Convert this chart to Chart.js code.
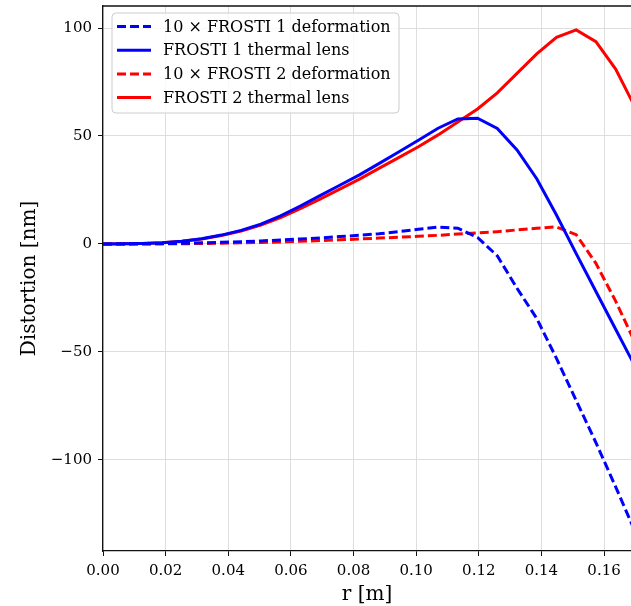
<!DOCTYPE html>
<html>
<head>
<meta charset="utf-8">
<script src="https://cdn.jsdelivr.net/npm/chart.js@4.4.0/dist/chart.umd.min.js"></script>
<style>
  html, body { margin: 0; padding: 0; background: #fff; }
  #wrap { width: 631px; height: 606px; position: relative; }
</style>
</head>
<body>
<div id="wrap"><canvas id="mainChart"></canvas></div>
<script>
// radius samples [m]
const rValues = [0, 0.0063, 0.0126, 0.0189, 0.0252, 0.0315, 0.0378, 0.0441, 0.0504, 0.0567,
    0.063, 0.0693, 0.0756, 0.0819, 0.0881, 0.0944, 0.1007, 0.107, 0.1133, 0.1196,
    0.1259, 0.1322, 0.1385, 0.1448, 0.1511, 0.1574, 0.1637, 0.17];

// distortion [nm], deformation already multiplied by 10
const frosti1Deformation = [0, 0, 0.05, 0.15, 0.3, 0.5, 0.75, 1.05, 1.4, 1.8,
    2.3, 2.8, 3.4, 4.0, 4.7, 5.7, 6.8, 7.8, 7.3, 3.0,
    -5.5, -20.5, -34.5, -53, -72.5, -92, -112.5, -133.5];
const frosti1Lens = [0, 0.05, 0.25, 0.6, 1.3, 2.4, 4.1, 6.3, 9.2, 13.0,
    17.5, 22.4, 27.2, 32.0, 37.2, 42.6, 48.0, 53.6, 57.9, 58.2,
    53.5, 43.5, 30.2, 13.4, -4.5, -22, -39.5, -57];
const frosti2Deformation = [0, 0, 0.02, 0.05, 0.1, 0.2, 0.35, 0.5, 0.7, 0.95,
    1.25, 1.55, 1.9, 2.3, 2.7, 3.1, 3.55, 4.0, 4.6, 5.1,
    5.7, 6.5, 7.3, 7.9, 4.3, -9, -26.5, -46];
const frosti2Lens = [0, 0.05, 0.25, 0.6, 1.2, 2.3, 3.9, 6.0, 8.7, 12.2,
    16.3, 20.8, 25.4, 30.0, 35.0, 40.0, 45.0, 50.5, 56.5, 62.5,
    70.0, 79.0, 88.0, 95.7, 99.1, 93.7, 81.0, 63.0];

const seriesLabels = ['10 \u00d7 FROSTI 1 deformation', 'FROSTI 1 thermal lens',
    '10 \u00d7 FROSTI 2 deformation', 'FROSTI 2 thermal lens'];

const xTicks = [0, 0.02, 0.04, 0.06, 0.08, 0.10, 0.12, 0.14, 0.16];
const yTicks = [-100, -50, 0, 50, 100];

const FONT = "'DejaVu Serif', serif";
const DASH = [9, 4];

function pts(ys) {
    return rValues.map((r, i) => ({ x: r, y: ys[i] }));
}

function fmtY(v) {
    return v < 0 ? '\u2212' + Math.abs(v) : String(v);
}

// top spine + legend box in the upper left of the plot
const framePlugin = {
    id: 'frame',
    afterDraw(chart) {
        const { ctx, chartArea: a } = chart;
        ctx.save();
        ctx.strokeStyle = '#111';
        ctx.lineWidth = 1.3;
        ctx.beginPath();
        ctx.moveTo(a.left, a.top);
        ctx.lineTo(a.right, a.top);
        ctx.stroke();

        const bx = a.left + 9, by = a.top + 7, bw = 287, bh = 100;
        ctx.beginPath();
        ctx.roundRect(bx, by, bw, bh, 4);
        ctx.fillStyle = 'rgba(255,255,255,0.8)';
        ctx.fill();
        ctx.strokeStyle = '#cccccc';
        ctx.lineWidth = 1;
        ctx.stroke();

        ctx.font = '16px ' + FONT;
        ctx.textBaseline = 'middle';
        ctx.fillStyle = '#000';
        chart.data.datasets.forEach((ds, i) => {
            const y = by + 13.5 + i * 23.7;
            ctx.beginPath();
            ctx.setLineDash(ds.borderDash || []);
            ctx.strokeStyle = ds.borderColor;
            ctx.lineWidth = ds.borderWidth;
            ctx.moveTo(bx + 5, y);
            ctx.lineTo(bx + 39, y);
            ctx.stroke();
            ctx.setLineDash([]);
            ctx.fillText(ds.label, bx + 51, y + 1);
        });
        ctx.restore();
    }
};

const ctx = document.getElementById('mainChart').getContext('2d');
new Chart(ctx, {
    type: 'line',
    data: {
        datasets: [
            { label: seriesLabels[0], data: pts(frosti1Deformation), borderColor: '#0000ff', borderDash: DASH },
            { label: seriesLabels[1], data: pts(frosti1Lens), borderColor: '#0000ff' },
            { label: seriesLabels[2], data: pts(frosti2Deformation), borderColor: '#ff0000', borderDash: DASH },
            { label: seriesLabels[3], data: pts(frosti2Lens), borderColor: '#ff0000' }
        ].map(ds => Object.assign(ds, {
            borderWidth: 3,
            pointRadius: 0,
            tension: 0,
            fill: false
        }))
    },
    options: {
        responsive: true,
        maintainAspectRatio: false,
        animation: false,
        layout: { padding: { top: 6, right: 0, left: 0, bottom: 0 } },
        plugins: {
            legend: { display: false },
            tooltip: { enabled: false }
        },
        scales: {
            x: {
                type: 'linear',
                min: 0,
                max: 0.1686,
                afterBuildTicks: s => { s.ticks = xTicks.map(v => ({ value: v })); },
                afterFit: s => { s.height = 55; s.paddingLeft = 0; s.paddingRight = 0; },
                grid: { color: '#dedede', lineWidth: 1, tickLength: 5, tickColor: '#111' },
                border: { color: '#111', width: 1.3 },
                ticks: {
                    color: '#000',
                    padding: 6,
                    maxRotation: 0,
                    font: { family: FONT, size: 15 },
                    callback: v => v.toFixed(2)
                },
                title: {
                    display: true,
                    text: 'r [m]',
                    color: '#000',
                    font: { family: FONT, size: 20 },
                    padding: { top: 0, bottom: -1 }
                }
            },
            y: {
                min: -142.2,
                max: 110.2,
                afterBuildTicks: s => { s.ticks = yTicks.map(v => ({ value: v })); },
                afterFit: s => { s.width = 103; s.paddingTop = 0; s.paddingBottom = 0; },
                grid: { color: '#dedede', lineWidth: 1, tickLength: 5, tickColor: '#111' },
                border: { color: '#111', width: 1.3 },
                ticks: {
                    color: '#000',
                    padding: 6,
                    font: { family: FONT, size: 15 },
                    callback: v => fmtY(v)
                },
                title: {
                    display: true,
                    text: 'Distortion [nm]',
                    color: '#000',
                    font: { family: FONT, size: 20 },
                    padding: { top: 18, bottom: 0 }
                }
            }
        }
    },
    plugins: [framePlugin]
});
</script>
</body>
</html>
